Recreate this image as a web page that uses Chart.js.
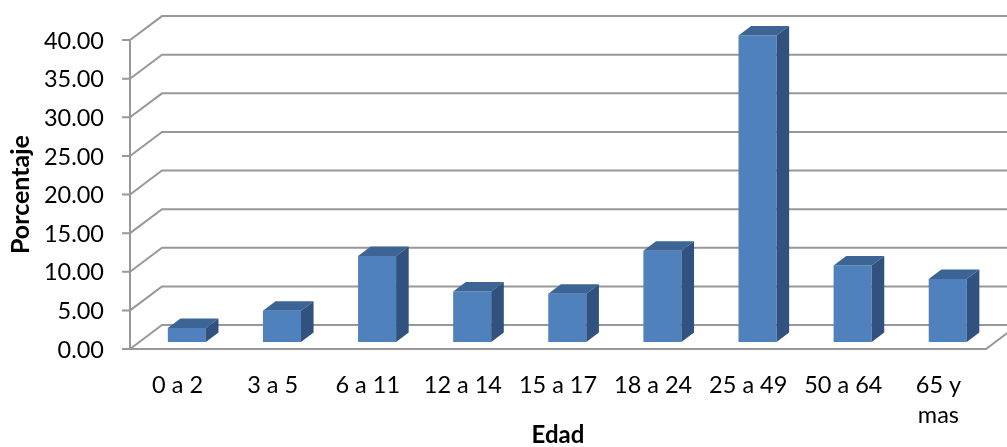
<!DOCTYPE html>
<html lang="es">
<head>
<meta charset="utf-8">
<title>Porcentaje por edad</title>
<script src="https://cdn.jsdelivr.net/npm/chart.js@4/dist/chart.umd.min.js"></script>
<style>
  html, body { margin: 0; padding: 0; background: #ffffff; }
  canvas { display: block; }
</style>
</head>
<body>
<canvas id="grafico" width="1007" height="447"></canvas>
<script>
// Grupos de edad y porcentaje de cada uno
const categorias = ['0 a 2', '3 a 5', '6 a 11', '12 a 14', '15 a 17', '18 a 24', '25 a 49', '50 a 64', ['65 y', 'mas']];
const porcentajes = [1.8, 4.05, 11.15, 6.55, 6.25, 11.8, 39.7, 9.9, 8.15];

// Eje vertical
const ejeMin = 0;
const ejeMax = 40;
const ejePaso = 5;

// Aspecto 3D: profundidad del piso/pared y posición de las barras dentro de ella
const PROF_X = 32, PROF_Y = -24;        // desplazamiento de la pared del fondo
const BARRA_DX = 9.3, BARRA_DY = -7;    // plano frontal de las barras
const BARRA_PX = 12.6, BARRA_PY = -9.5; // grosor de cada barra
const COLOR_FRENTE = '#4f81bd';
const COLOR_TAPA = '#3c6494';
const COLOR_LADO = '#31527e';
const COLOR_REJILLA = '#989898';
const FUENTE = 'Lato, "Open Sans", sans-serif';

const marco3D = {
  id: 'marco3D',
  beforeDatasetsDraw(chart) {
    const { ctx, chartArea: a, scales: { y } } = chart;
    ctx.save();
    ctx.strokeStyle = COLOR_REJILLA;
    ctx.lineWidth = 2;
    ctx.lineCap = 'butt';
    // líneas de división: marca, diagonal lateral y línea en la pared del fondo
    for (let v = ejeMin; v <= ejeMax; v += ejePaso) {
      const py = y.getPixelForValue(v);
      ctx.beginPath();
      ctx.moveTo(a.left - 8, py);
      ctx.lineTo(a.left, py);
      ctx.lineTo(a.left + PROF_X, py + PROF_Y);
      ctx.lineTo(chart.width + 40, py + PROF_Y);
      ctx.stroke();
    }
    // eje vertical frontal
    ctx.beginPath();
    ctx.moveTo(a.left, y.getPixelForValue(ejeMax));
    ctx.lineTo(a.left, a.bottom);
    ctx.stroke();
    // borde frontal y lateral derecho del piso
    ctx.beginPath();
    ctx.moveTo(a.left, a.bottom);
    ctx.lineTo(a.right, a.bottom);
    ctx.lineTo(a.right + PROF_X, a.bottom + PROF_Y);
    ctx.stroke();
    ctx.restore();

    // las barras se dibujan en un plano intermedio de la profundidad
    ctx.save();
    ctx.translate(BARRA_DX, BARRA_DY);
  },
  afterDatasetsDraw(chart) {
    const { ctx } = chart;
    const meta = chart.getDatasetMeta(0);
    meta.data.forEach(bar => {
      const { x, y, base, width } = bar.getProps(['x', 'y', 'base', 'width'], true);
      const l = x - width / 2, r = x + width / 2;
      // cara superior
      ctx.fillStyle = COLOR_TAPA;
      ctx.beginPath();
      ctx.moveTo(l, y);
      ctx.lineTo(l + BARRA_PX, y + BARRA_PY);
      ctx.lineTo(r + BARRA_PX, y + BARRA_PY);
      ctx.lineTo(r, y);
      ctx.closePath();
      ctx.fill();
      // cara lateral
      ctx.fillStyle = COLOR_LADO;
      ctx.beginPath();
      ctx.moveTo(r, y);
      ctx.lineTo(r + BARRA_PX, y + BARRA_PY);
      ctx.lineTo(r + BARRA_PX, base + BARRA_PY);
      ctx.lineTo(r, base);
      ctx.closePath();
      ctx.fill();
    });
    ctx.restore();
  }
};

new Chart(document.getElementById('grafico'), {
  type: 'bar',
  data: {
    labels: categorias,
    datasets: [{
      label: 'Porcentaje',
      data: porcentajes,
      backgroundColor: COLOR_FRENTE,
      borderWidth: 0,
      categoryPercentage: 1,
      barPercentage: 0.4,
      clip: false
    }]
  },
  options: {
    responsive: false,
    animation: false,
    devicePixelRatio: 1,
    layout: { padding: { top: 40, right: 21, left: 0, bottom: 0 } },
    plugins: {
      legend: { display: false },
      tooltip: { enabled: false }
    },
    scales: {
      x: {
        grid: { display: false, drawTicks: false },
        border: { display: false },
        ticks: {
          color: '#000000',
          font: { family: FUENTE, size: 23.5, lineHeight: 1.3 },
          padding: 21,
          maxRotation: 0,
          autoSkip: false
        },
        title: {
          display: true,
          text: 'Edad',
          color: '#000000',
          font: { family: FUENTE, size: 24, weight: 'bold', lineHeight: 1 },
          padding: { top: 0, bottom: 0 }
        },
        afterFit(s) { s.height = 98; }
      },
      y: {
        min: ejeMin,
        max: ejeMax,
        grid: { display: false, drawTicks: false },
        border: { display: false },
        ticks: {
          stepSize: ejePaso,
          color: '#000000',
          font: { family: FUENTE, size: 23.5 },
          padding: 26,
          labelOffset: 1,
          callback: v => Number(v).toFixed(2)
        },
        title: {
          display: true,
          text: 'Porcentaje',
          color: '#000000',
          font: { family: FUENTE, size: 25, weight: 'bold', lineHeight: 1 },
          padding: { top: 8, bottom: 0 }
        },
        afterFit(s) { s.width = 130; }
      }
    }
  },
  plugins: [marco3D]
});
</script>
</body>
</html>
